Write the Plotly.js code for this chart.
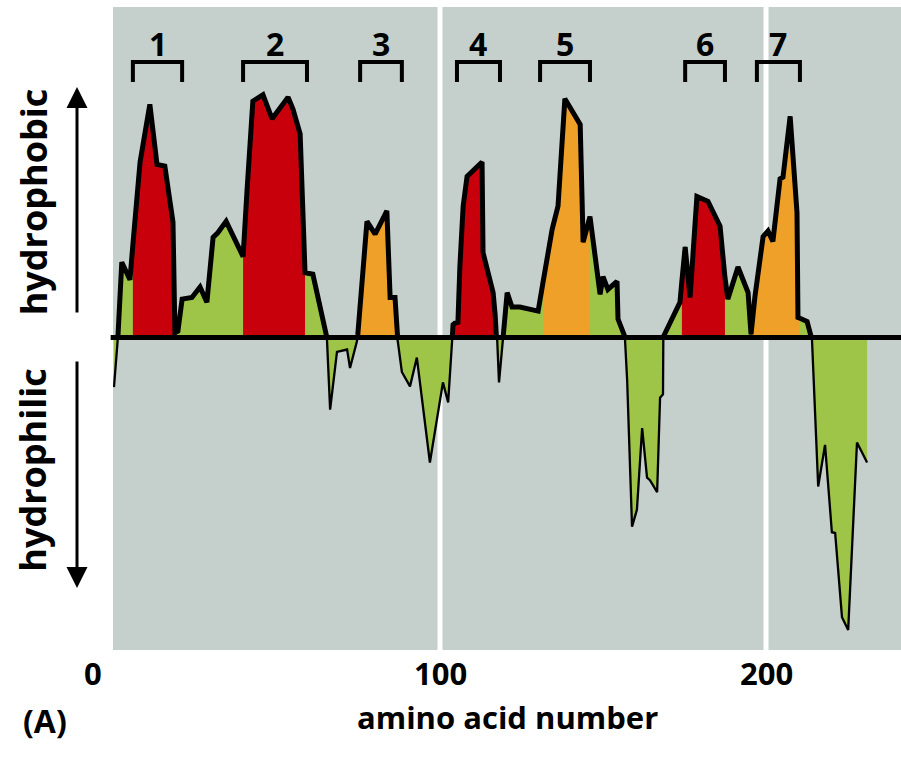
<!DOCTYPE html>
<html>
<head>
<meta charset="utf-8">
<script src="https://cdn.plot.ly/plotly-3.0.1.min.js"></script>
<style>html,body{margin:0;padding:0;background:#fff;}#chart{width:901px;height:759px;}</style>
</head>
<body>
<div id="chart"></div>
<script>
// amino acid position and hydropathy value
const residue = [0, 1.2, 2.4, 4.9, 5.8, 8.0, 11.0, 13.2, 15.6, 18.1,
  18.7, 19.6, 20.9, 23.9, 26.4, 28.5, 30.4, 31.9, 34.4, 39.6,
  40.8, 42.6, 45.7, 48.5, 53.4, 54.9, 57.1, 58.6, 61.0, 63.8,
  65.3, 66.3, 68.4, 71.5, 72.4, 74.5, 74.8, 77.6, 80.1, 83.7,
  84.7, 86.2, 86.8, 87.1, 88.3, 90.8, 92.9, 96.9, 100.9, 102.5,
  103.7, 104.0, 104.6, 105.5, 106.1, 107.1, 108.3, 112.9, 113.2, 116.3,
  116.9, 117.5, 118.1, 120.6, 122.1, 124.5, 130.1, 131.6, 134.4, 136.2,
  138.3, 143.0, 143.9, 146.0, 149.1, 150.0, 151.5, 154.3, 154.6, 156.7,
  157.4, 158.9, 160.4, 162.0, 163.5, 164.4, 166.6, 167.5, 168.4, 168.5,
  173.6, 174.2, 175.2, 176.7, 178.8, 182.2, 185.9, 187.4, 188.3, 191.4,
  194.5, 195.4, 196.6, 199.1, 200.6, 202.1, 204.3, 205.2, 207.4, 209.5,
  209.8, 210.4, 212.6, 214.1, 216.0, 218.1, 220.2, 221.2, 223.3, 225.2,
  227.9, 231.0];
const hydropathy = [-0.62, 0, 0.94, 0.72, 1.16, 2.19, 2.91, 2.16, 2.14, 1.44,
  0.06, 0.08, 0.48, 0.5, 0.63, 0.44, 1.25, 1.31, 1.45, 1.01,
  1.83, 2.95, 3.03, 2.73, 3.0, 2.85, 2.54, 0.81, 0.79, 0.31,
  0, -0.9, -0.18, -0.15, -0.38, -0.05, 0.04, 1.45, 1.29, 1.58,
  0.5, 0.5, 0.01, -0.06, -0.43, -0.61, -0.25, -1.56, -0.56, -0.81,
  -0.05, 0.16, 0.18, 0.19, 0.89, 1.64, 2.01, 2.19, 1.06, 0.56,
  0.29, 0.01, -0.56, 0.56, 0.38, 0.38, 0.33, 0.69, 1.35, 1.64,
  2.98, 2.66, 1.19, 1.51, 0.54, 0.76, 0.6, 0.7, 0.23, 0.01,
  -0.53, -2.36, -2.15, -1.13, -1.75, -1.78, -1.93, -0.75, -0.71, 0.01,
  0.44, 0.71, 1.13, 0.5, 1.76, 1.7, 1.39, 0.75, 0.48, 0.88,
  0.56, 0.04, 0.51, 1.26, 1.33, 1.2, 1.98, 2.0, 2.76, 1.56,
  0.25, 0.24, 0.2, -0.03, -1.86, -1.34, -2.43, -2.44, -3.49, -3.65,
  -1.31, -1.56];

// hydrophobic segments (coloured fills)
const segStart = [5.8, 39.6, 74.8, 104.6, 131.6, 174.2, 195.4];
const segEnd   = [18.1, 58.6, 86.8, 116.9, 146.0, 187.4, 210.4];
const segKind  = ['red', 'red', 'orange', 'red', 'orange', 'red', 'orange'];

// numbered brackets above the plot
const bracketLabels = ['1', '2', '3', '4', '5', '6', '7'];
const bracketStart = [5.8, 39.6, 75.5, 105.2, 130.7, 175.2, 197.2];
const bracketEnd   = [20.9, 59.2, 88.3, 118.4, 146.0, 187.4, 210.4];

// x tick labels
const tickVals = [0, 100, 200];
const tickText = ['0', '100', '200'];

const COLORS = {red: 'rgb(200,0,12)', orange: 'rgb(238,160,40)', green: 'rgb(158,196,72)'};
const BG = 'rgb(197,207,204)';
const FONT = 'Open Sans, sans-serif';

const yMin = -3.9, yMax = 4.125;
const xMin = -0.3, xMax = 241.4;
const zeroFrac = (0 - yMin) / (yMax - yMin);

const traces = [];
// base green fill
traces.push({x: residue, y: hydropathy, type: 'scatter', mode: 'none', fill: 'tozeroy',
  fillcolor: COLORS.green, hoverinfo: 'skip', showlegend: false, xaxis: 'x', yaxis: 'y'});
// coloured segments
segStart.forEach((s, i) => {
  const xs = [], ys = [];
  residue.forEach((r, j) => { if (r >= s - 1e-9 && r <= segEnd[i] + 1e-9) { xs.push(r); ys.push(hydropathy[j]); } });
  traces.push({x: xs, y: ys, type: 'scatter', mode: 'none', fill: 'tozeroy',
    fillcolor: COLORS[segKind[i]], hoverinfo: 'skip', showlegend: false, xaxis: 'x', yaxis: 'y'});
});
// thin outline everywhere
traces.push({x: residue, y: hydropathy, type: 'scatter', mode: 'lines',
  line: {color: '#000', width: 2.3, shape: 'linear'}, hoverinfo: 'skip', showlegend: false, xaxis: 'x', yaxis: 'y'});
// thick outline, clipped to the hydrophobic half by its own subplot
traces.push({x: residue, y: hydropathy, type: 'scatter', mode: 'lines',
  line: {color: '#000', width: 5, shape: 'linear'}, hoverinfo: 'skip', showlegend: false, xaxis: 'x', yaxis: 'y2'});

const shapes = [
  {type: 'rect', xref: 'paper', yref: 'paper', x0: 0, x1: 1, y0: 0, y1: 1, fillcolor: BG, line: {width: 0}, layer: 'below'}
];
[100, 200].forEach(v => shapes.push({type: 'line', xref: 'x', yref: 'paper', x0: v, x1: v, y0: 0, y1: 1,
  line: {color: '#fff', width: 5}, layer: 'below'}));
shapes.push({type: 'line', xref: 'paper', yref: 'y', x0: -0.003, x1: 1, y0: 0, y1: 0, line: {color: '#000', width: 5}, layer: 'above'});

const annotations = [];
const bTop = (650 - 63) / 642, bLeg = (650 - 83) / 642, bNum = (650 - 44) / 642;
bracketStart.forEach((s, i) => {
  const e = bracketEnd[i];
  shapes.push({type: 'path', xref: 'x', yref: 'paper',
    path: `M ${s},${bLeg} L ${s},${bTop} L ${e},${bTop} L ${e},${bLeg}`,
    line: {color: '#000', width: 4}, layer: 'above'});
  annotations.push({xref: 'x', yref: 'paper', x: (s + e) / 2, y: bNum, text: bracketLabels[i], showarrow: false,
    xanchor: 'center', yanchor: 'middle', font: {family: FONT, size: 32, color: '#000', weight: 700}});
});
tickVals.forEach((v, i) => annotations.push({xref: 'x', yref: 'paper', x: v, y: (650 - 673) / 642, text: tickText[i],
  showarrow: false, xanchor: 'center', yanchor: 'middle', xshift: v === 0 ? -21 : 0,
  font: {family: FONT, size: 31, color: '#000', weight: 700}}));
annotations.push({xref: 'paper', yref: 'paper', x: (507 - 113) / 788, y: (650 - 717) / 642, text: 'amino acid number',
  showarrow: false, xanchor: 'center', yanchor: 'middle', font: {family: FONT, size: 31, color: '#000', weight: 700}});
annotations.push({xref: 'paper', yref: 'paper', x: (45 - 113) / 788, y: (650 - 720) / 642, text: '(A)',
  showarrow: false, xanchor: 'center', yanchor: 'middle', font: {family: FONT, size: 32, color: '#000', weight: 700}});
annotations.push({xref: 'paper', yref: 'paper', x: (33 - 113) / 788, y: (650 - 203) / 642, text: 'hydrophobic', textangle: -90,
  showarrow: false, xanchor: 'center', yanchor: 'middle', font: {family: FONT, size: 36, color: '#000', weight: 700}});
annotations.push({xref: 'paper', yref: 'paper', x: (33 - 113) / 788, y: (650 - 471) / 642, text: 'hydrophilic', textangle: -90,
  showarrow: false, xanchor: 'center', yanchor: 'middle', font: {family: FONT, size: 36, color: '#000', weight: 700}});
// arrows
annotations.push({xref: 'paper', yref: 'paper', x: (77 - 113) / 788, y: (650 - 88) / 642, text: '', showarrow: true,
  ax: 0, ay: 227, arrowhead: 2, arrowsize: 1.4, arrowwidth: 3, arrowcolor: '#000'});
annotations.push({xref: 'paper', yref: 'paper', x: (77 - 113) / 788, y: (650 - 588) / 642, text: '', showarrow: true,
  ax: 0, ay: -228, arrowhead: 2, arrowsize: 1.4, arrowwidth: 3, arrowcolor: '#000'});

const axOff = {showgrid: false, zeroline: false, showticklabels: false, ticks: '', showline: false, fixedrange: true};
const layout = {
  width: 901, height: 759,
  margin: {l: 113, r: 0, t: 7, b: 109, pad: 0},
  paper_bgcolor: '#fff', plot_bgcolor: 'rgba(0,0,0,0)',
  showlegend: false,
  xaxis: Object.assign({range: [xMin, xMax], anchor: 'y'}, axOff),
  yaxis: Object.assign({range: [yMin, yMax], domain: [0, 1], anchor: 'x'}, axOff),
  yaxis2: Object.assign({range: [0, yMax], domain: [zeroFrac, 1], anchor: 'x'}, axOff),
  shapes: shapes,
  annotations: annotations
};
Plotly.newPlot('chart', traces, layout, {displayModeBar: false, staticPlot: true});
</script>
</body>
</html>
